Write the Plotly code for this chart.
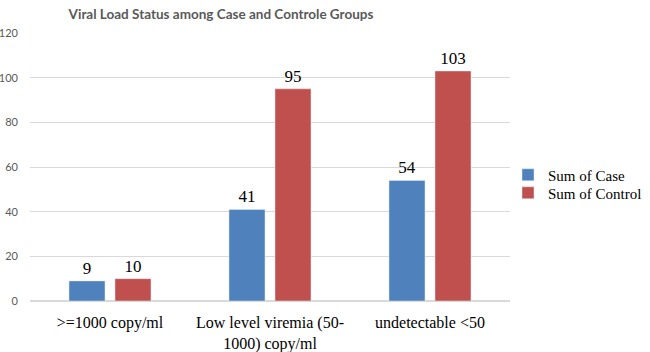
import plotly.graph_objects as go

categories = [">=1000 copy/ml", "Low level viremia (50-<br>1000) copy/ml", "undetectable <50"]
case_values = [9, 41, 54]
control_values = [10, 95, 103]
series_names = ["Sum of Case", "Sum of Control"]
y_ticks = [0, 20, 40, 60, 80, 100, 120]

BLUE = "#4F81BD"
RED = "#C0504D"
SERIF = "Liberation Serif, Times New Roman, serif"
SANS = "Lato, Open Sans, sans-serif"

fig = go.Figure()
for name, vals, col, lg in [(series_names[0], case_values, BLUE, "legend"),
                            (series_names[1], control_values, RED, "legend2")]:
    fig.add_trace(go.Bar(
        x=categories, y=vals, name=name, marker_color=col, legend=lg,
        text=[str(v) for v in vals], textposition="outside", cliponaxis=False,
        textfont=dict(family=SERIF, size=17, color="#000000"),
    ))

legend_common = dict(xref="container", yref="container", xanchor="left", yanchor="middle",
                     font=dict(family=SERIF, size=15, color="#000000"),
                     bgcolor="rgba(0,0,0,0)", itemclick=False, itemwidth=30)

fig.update_layout(
    width=650, height=352,
    margin=dict(l=30, r=140, t=33, b=51, autoexpand=False),
    paper_bgcolor="white", plot_bgcolor="white",
    barmode="group", bargap=0.425, bargroupgap=0.217,
    title=dict(text="<b>Viral Load Status among Case and Controle Groups</b>",
               font=dict(family=SANS, size=13.5, color="#595959"),
               x=(221 - 30) / 480, xref="paper", xanchor="center",
               y=1 - 14 / 352, yref="container", yanchor="middle"),
    legend=dict(x=508 / 650, y=1 - 175 / 352, **legend_common),
    legend2=dict(x=508 / 650, y=1 - 193 / 352, **legend_common),
    showlegend=True,
)
fig.update_yaxes(range=[0, 120], tickvals=y_ticks, showgrid=True, gridcolor="#D9D9D9",
                 gridwidth=1, zeroline=True, zerolinecolor="#D9D9D9", showline=False,
                 ticks="", ticklabelstandoff=11, automargin=False,
                 tickfont=dict(family=SANS, size=11, color="#595959"))
fig.update_xaxes(showline=False, ticks="", ticklabelstandoff=10, automargin=False,
                 tickfont=dict(family=SERIF, size=16, color="#000000"))

fig.write_html("out.html", config={"displayModeBar": False},
               post_script="document.body.style.margin='0';document.body.style.padding='0';")
